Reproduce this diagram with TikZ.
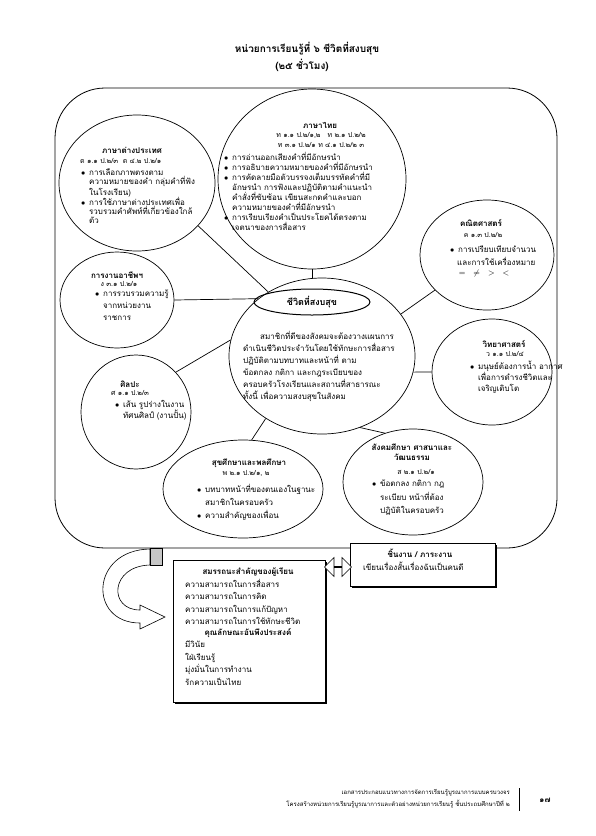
\documentclass[tikz,border=0pt]{standalone}
\usepackage{fontspec}
\setmainfont[Script=Thai]{Loma}
\usetikzlibrary{shapes.geometric,shapes.arrows,shadows}
\newcommand\bul{\makebox[8pt][l]{$\bullet$}}
\newcommand\ind{\hspace*{8pt}}
\newcommand\fz[2]{\fontsize{#1}{#2}\selectfont}
\begin{document}
\begin{tikzpicture}[x=1pt,y=-1pt,
  ell/.style={draw, ellipse, line width=0.7pt, inner sep=0pt},
  body/.style={inner sep=0pt, align=left, font=\fz{8}{10}},
  hd/.style={inner sep=0pt, align=center, font=\bfseries\fz{8}{10.5}},
  code/.style={inner sep=0pt, align=center, font=\fz{7}{10}},
  link/.style={line width=0.7pt},
  box/.style={draw, fill=white, line width=0.7pt, inner sep=0pt,
    drop shadow={shadow xshift=1.3pt, shadow yshift=-1.3pt, opacity=1, fill=black}},
]
\useasboundingbox (0,0) rectangle (595,836);
\fill[white] (0,0) rectangle (595,836);

% title
\node[inner sep=0pt, font=\bfseries\fz{10}{12}] (t1) at (307,49) {หน่วยการเรียนรู้ที่ ๖ ชีวิตที่สงบสุข};
\node[inner sep=0pt, font=\bfseries\fz{10}{12}] (t2) at (302,65) {(๒๕ ชั่วโมง)};

% frame
\node[draw, line width=0.8pt, rounded corners=50pt, minimum width=502pt, minimum height=460pt] (frame) at (306,318) {};

% ellipses
\node[ell, fill=white, minimum width=188pt, minimum height=180pt] (thai) at (312,179) {};
\node[ell, fill=white, minimum width=156pt, minimum height=136pt] (foreign) at (137,183) {};
\node[ell, fill=white, minimum width=134pt, minimum height=110pt] (math) at (487,255) {};
\node[ell, fill=white, minimum width=114pt, minimum height=96pt] (career) at (117,300) {};
\node[ell, fill=white, minimum width=186pt, minimum height=156pt] (ctr) at (322,356) {};
\node[ell, fill=white, minimum width=120pt, minimum height=106pt] (sci) at (492,372) {};
\node[ell, fill=white, minimum width=110pt, minimum height=114pt] (art) at (136,412) {};
\node[ell, fill=white, minimum width=160pt, minimum height=98pt] (health) at (243,489) {};
\node[ell, fill=white, minimum width=140pt, minimum height=106pt] (social) at (413,482) {};
\node[ell, line width=1pt, minimum width=116pt, minimum height=26pt] (inner) at (312,302) {};

% connectors
\draw[link] (thai.south) -- (thai.south |- ctr.north);
\draw[link] (foreign.-35) -- (ctr.130);
\draw[link] (career.east) -- (ctr.138);
\draw[link] (ctr.28) -- (math.214);
\draw[link] (ctr.-10) -- (sci.west);
\draw[link] (art.45) -- (ctr.170);
\draw[link] (health.80) -- (ctr.228);
\draw[link] (ctr.-62) -- (social.120);

% Thai
\node[hd] (thaiT) at (320,125) {ภาษาไทย};
\node[code] (thaiC) at (321,140) {ท ๑.๑ ป.๒/๑,๒ \ \ ท ๒.๑ ป.๒/๒\\ท ๓.๑ ป.๒/๑ ท ๔.๑ ป.๒/๒ ๓};
\node[body, anchor=north west] (thaiB) at (224,152) {\bul การอ่านออกเสียงคำที่มีอักษรนำ\\
\bul การอธิบายความหมายของคำที่มีอักษรนำ\\
\bul การคัดลายมือตัวบรรจงเต็มบรรทัดคำที่มี\\
\ind อักษรนำ การฟังและปฏิบัติตามคำแนะนำ\\
\ind คำสั่งที่ซับซ้อน เขียนสะกดคำและบอก\\
\ind ความหมายของคำที่มีอักษรนำ\\
\bul การเรียบเรียงคำเป็นประโยคได้ตรงตาม\\
\ind เจตนาของการสื่อสาร};

% Foreign
\node[hd] (forT) at (132,150) {ภาษาต่างประเทศ};
\node[code, anchor=west] (forC) at (80,161) {ต ๑.๑ ป.๒/๓ \ ต ๔.๒ ป.๒/๑};
\node[body, anchor=north west, font=\fz{8}{8.8}] (forB) at (81,169) {\bul การเลือกภาพตรงตาม\\
\ind ความหมายของคำ กลุ่มคำที่ฟัง\\
\ind ในโรงเรียน)\\
\bul การใช้ภาษาต่างประเทศเพื่อ\\
\ind รวบรวมคำศัพท์ที่เกี่ยวข้องใกล้\\
\ind ตัว};

% Math
\node[hd] (mathT) at (481,223) {คณิตศาสตร์};
\node[code] (mathC) at (483,235) {ค ๑.๓ ป.๒/๒};
\node[body, anchor=west] (mathB1) at (450,249) {\bul การเปรียบเทียบจำนวน};
\node[body, anchor=west] (mathB2) at (457,261) {และการใช้เครื่องหมาย};
\node[body] (mathB3) at (484,273) {$=\quad\neq\quad>\quad<$};

% Career
\node[hd] (carT) at (117,275) {การงานอาชีพฯ};
\node[code] (carC) at (119,284) {ง ๓.๑ ป.๒/๑};
\node[body, anchor=north west, font=\fz{8}{12}] (carB) at (95,290) {\bul การรวบรวมความรู้\\
\ind จากหน่วยงาน\\
\ind ราชการ};

% Centre
\node[hd, font=\bfseries\fz{9}{11}] (ctrT) at (312,302) {ชีวิตที่สงบสุข};
\node[body, anchor=north west, font=\fz{8}{12}] (ctrB) at (243,331) {\hspace*{17pt}สมาชิกที่ดีของสังคมจะต้องวางแผนการ\\
ดำเนินชีวิตประจำวันโดยใช้ทักษะการสื่อสาร\\
ปฏิบัติตามบทบาทและหน้าที่ ตาม\\
ข้อตกลง กติกา และกฎระเบียบของ\\
ครอบครัวโรงเรียนและสถานที่สาธารณะ\\
ทั้งนี้ เพื่อความสงบสุขในสังคม};

% Science
\node[hd] (sciT) at (504,344) {วิทยาศาสตร์};
\node[code] (sciC) at (505,354) {ว ๑.๑ ป.๒/๔};
\node[body, anchor=north west, font=\fz{8}{11}] (sciB) at (470,361) {\bul มนุษย์ต้องการน้ำ อากาศ\\
\ind เพื่อการดำรงชีวิตและ\\
\ind เจริญเติบโต};

% Art
\node[hd] (artT) at (130,384) {ศิลปะ};
\node[code] (artC) at (130,393) {ศ ๑.๑ ป.๒/๓};
\node[body, anchor=north west, font=\fz{8}{9.5}] (artB) at (115,400) {\bul เส้น รูปร่างในงาน\\
\ind ทัศนศิลป์ (งานปั้น)};

% Health
\node[hd] (heaT) at (249,463) {สุขศึกษาและพลศึกษา};
\node[code] (heaC) at (246,473) {พ ๒.๑ ป.๒/๑, ๒};
\node[body, anchor=north west, font=\fz{8}{12.8}] (heaB) at (197,484) {\bul บทบาทหน้าที่ของตนเองในฐานะ\\
\ind สมาชิกในครอบครัว\\
\bul ความสำคัญของเพื่อน};

% Social
\node[hd] (socT) at (412,452) {สังคมศึกษา ศาสนาและ\\วัฒนธรรม};
\node[code] (socC) at (416,472) {ส ๒.๑ ป.๒/๑};
\node[body, anchor=north west, font=\fz{8}{13.5}] (socB) at (372,480) {\bul ข้อตกลง กติกา กฎ\\
\ind ระเบียบ หน้าที่ต้อง\\
\ind ปฏิบัติในครอบครัว};

% bottom: curved arrow
\draw[line width=0.6pt, fill=white] (150,549) .. controls (90,550) and (88,623) .. (140,623)
  -- (140,629) -- (165,617) -- (140,605) -- (140,610)
  .. controls (108,610) and (110,566) .. (150,565) -- cycle;
\node[draw, fill=gray!45, line width=0.6pt, minimum width=12pt, minimum height=17pt, inner sep=0pt, anchor=north west] (tail) at (150,548) {};

% boxes
\node[box, minimum width=152pt, minimum height=142pt, anchor=north west] (skills) at (173,560) {};
\node[box, minimum width=145pt, minimum height=43pt, anchor=north west] (task) at (350,543) {};
\node[double arrow, draw, fill=white, line width=0.6pt, inner sep=0pt, minimum width=19pt, minimum height=27pt, double arrow head extend=5pt, double arrow head indent=0pt] (darr) at (338,567) {};

\node[hd] (taskT) at (420,553) {ชิ้นงาน / ภาระงาน};
\node[body, anchor=west] (taskB) at (363,566) {เขียนเรื่องสั้นเรื่องฉันเป็นคนดี};

\node[hd] (skT1) at (248,572) {สมรรถนะสำคัญของผู้เรียน};
\node[body, anchor=north west, font=\fz{8}{12.4}] (skL1) at (185,579) {ความสามารถในการสื่อสาร\\
ความสามารถในการคิด\\
ความสามารถในการแก้ปัญหา\\
ความสามารถในการใช้ทักษะชีวิต};
\node[hd] (skT2) at (248,633) {คุณลักษณะอันพึงประสงค์};
\node[body, anchor=north west, font=\fz{8}{12.4}] (skL2) at (185,641) {มีวินัย\\
ใฝ่เรียนรู้\\
มุ่งมั่นในการทำงาน\\
รักความเป็นไทย};

% footer
\node[inner sep=0pt, anchor=east, font=\fz{6}{8}] (f1) at (510,793) {เอกสารประกอบแนวทางการจัดการเรียนรู้บูรณาการแบบครบวงจร};
\node[inner sep=0pt, anchor=east, font=\fz{6}{8}] (f2) at (510,804) {โครงสร้างหน่วยการเรียนรู้บูรณาการและตัวอย่างหน่วยการเรียนรู้ ชั้นประถมศึกษาปีที่ ๒};
\draw[line width=1pt] (519,788) -- (519,811);
\node[inner sep=0pt, font=\bfseries\fz{8}{10}] (pg) at (545,800) {๑๗};
\end{tikzpicture}
\end{document}
